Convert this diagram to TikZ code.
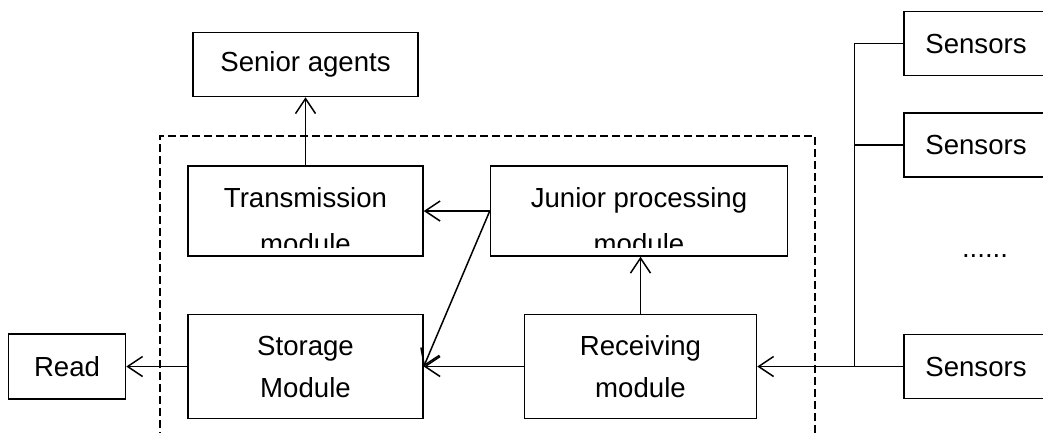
\documentclass[tikz,border=0pt]{standalone}
\usepackage{fontspec}
\setmainfont{Liberation Sans}
\usetikzlibrary{arrows.meta,calc,positioning}
\tikzset{
  module/.style={
    draw=black, line width=1.5pt, fill=white, inner sep=0pt,
    align=center, font=\fontsize{27.6}{42}\selectfont
  },
  cutmodule/.style={
    module, minimum width=235pt, minimum height=90pt,
    text height=84pt, text depth=0pt, font=\fontsize{27.6}{46}\selectfont
  },
  flow/.style={-{Straight Barb[length=15pt,width=20pt]}, line width=1.5pt},
  bus/.style={line width=1.5pt},
  frame/.style={dash pattern=on 8pt off 4pt, line width=2pt}
}

\begin{document}
\begin{tikzpicture}[x=1pt,y=-1pt]
  \useasboundingbox (0,0) rectangle (1043,432);
  % dashed frame of the agent
  \draw[frame] (160,440) |- (815,136) -- (815,440);

  \node[cutmodule] (trans) at (305.5,211) {Transmission\\module};
  \node[cutmodule,minimum width=297pt,right=66pt of trans] (junior) {Junior processing\\module};
  \node[module,minimum width=235pt,minimum height=104pt,below=57pt of trans] (storage) {Storage\\Module};
  \node[module,minimum width=232pt,minimum height=104pt,right=100pt of storage] (recv) {Receiving\\module};
  \node[module,minimum width=225pt,minimum height=64pt,above=68pt of trans] (senior) {Senior agents};
  \node[module,minimum width=117pt,minimum height=65pt,left=61pt of storage] (read) {Read};

  % text cut by the text box
  \fill[white] ($(trans.south west)+(2.5,-9)$) rectangle ($(trans.south east)+(-2.5,-1.8)$);
  \fill[white] ($(junior.south west)+(2.5,-9)$) rectangle ($(junior.south east)+(-2.5,-1.8)$);

  \node[module,minimum width=144pt,minimum height=64pt,right=146pt of recv] (s3) {Sensors};
  \node[module,minimum width=144pt,minimum height=64pt,above=156pt of s3] (s2) {Sensors};
  \node[module,minimum width=144pt,minimum height=64pt,above=36pt of s2] (s1) {Sensors};
  \node[font=\fontsize{27.6}{33}\selectfont] (dots) at (985,256) {......};

  \coordinate (tap) at ([xshift=-49pt]s3.west);
  \draw[bus] (s1.west) -| (tap);
  \draw[bus] (s2.west) -- (s2.west -| tap);
  \draw[flow] (s3.west) -- (recv.east);

  \draw[flow] (recv.west) -- (storage.east);
  \draw[flow] (recv.north) -- (recv.north |- junior.south);
  \draw[flow] (junior.west) -- (trans.east);
  \draw[flow] (junior.west) -- (storage.east);
  \draw[flow] (trans.north) -- (trans.north |- senior.south);
  \draw[flow] (storage.west) -- (read.east);
\end{tikzpicture}
\end{document}
